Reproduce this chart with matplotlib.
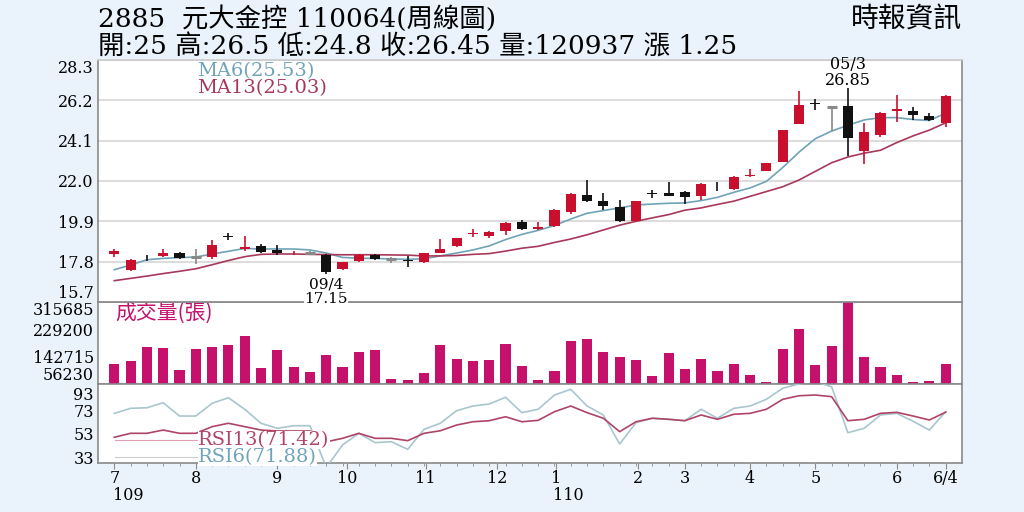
import matplotlib
matplotlib.use('Agg')
import matplotlib.pyplot as plt
from matplotlib.lines import Line2D
import numpy as np

# weekly candles 109/7 .. 110/6/4
opens = [18.22, 17.38, 17.96, 18.08, 18.23, 18.02, 18.06, 19.15, 18.44, 18.62,
         18.39, 18.23, 18.25, 18.15, 17.42, 17.82, 18.15, 17.94, 17.88, 17.76,
         18.27, 18.62, 19.25, 19.14, 19.38, 19.88, 19.50, 19.66, 20.41, 21.28,
         20.98, 20.67, 19.90, 21.38, 21.40, 21.45, 21.24, 21.76, 21.59, 22.25,
         22.54, 23.01, 24.97, 26.05, 25.85, 25.93, 23.58, 24.42, 25.62, 25.67,
         25.40, 25.00]
highs = [18.48, 17.96, 18.15, 18.46, 18.28, 18.46, 18.95, 19.30, 19.12, 18.72,
         18.67, 18.35, 18.35, 18.20, 17.80, 18.20, 18.20, 18.06, 18.08, 18.25,
         18.98, 19.05, 19.50, 19.40, 19.85, 19.98, 19.88, 20.55, 21.40, 22.06,
         21.36, 21.02, 20.94, 21.54, 21.93, 21.50, 21.90, 21.95, 22.28, 22.63,
         22.95, 24.68, 26.68, 26.28, 25.90, 26.85, 25.00, 25.60, 26.48, 25.87,
         25.55, 26.50]
lows = [18.06, 17.33, 17.85, 18.02, 17.94, 17.68, 17.94, 18.95, 18.37, 18.23,
        18.16, 18.15, 18.15, 17.15, 17.38, 17.78, 17.88, 17.73, 17.54, 17.71,
        18.25, 18.55, 19.07, 19.05, 19.20, 19.45, 19.45, 19.60, 20.30, 20.90,
        20.49, 19.85, 19.90, 21.10, 21.24, 20.81, 21.00, 21.50, 21.55, 22.20,
        22.50, 23.01, 24.97, 25.70, 24.60, 23.32, 22.90, 24.30, 25.06, 25.15,
        25.10, 24.80]
closes = [18.37, 17.89, 17.93, 18.25, 17.99, 18.02, 18.67, 19.10, 18.57, 18.28,
          18.23, 18.27, 18.25, 17.28, 17.76, 18.16, 17.92, 17.94, 17.82, 18.23,
          18.46, 19.01, 19.30, 19.36, 19.80, 19.50, 19.62, 20.49, 21.31, 20.98,
          20.72, 19.90, 20.94, 21.34, 21.24, 21.19, 21.85, 21.72, 22.23, 22.33,
          22.92, 24.68, 25.94, 26.00, 25.85, 24.25, 24.57, 25.53, 25.74, 25.46,
          25.20, 26.45]
ma6 = [17.38, 17.63, 17.90, 17.97, 18.01, 18.04, 18.20, 18.34, 18.49, 18.46,
       18.46, 18.46, 18.41, 18.25, 18.02, 17.98, 17.97, 17.94, 17.92, 17.95,
       18.10, 18.25, 18.41, 18.62, 18.95, 19.22, 19.43, 19.68, 20.02, 20.32,
       20.46, 20.60, 20.75, 20.80, 20.84, 20.86, 20.98, 21.15, 21.41, 21.64,
       21.98, 22.70, 23.50, 24.20, 24.60, 24.90, 25.18, 25.30, 25.30, 25.20,
       25.15, 25.53]
ma13 = [16.81, 16.93, 17.05, 17.18, 17.30, 17.43, 17.64, 17.86, 18.06, 18.18,
        18.20, 18.20, 18.18, 18.17, 18.16, 18.16, 18.16, 18.15, 18.14, 18.10,
        18.10, 18.12, 18.18, 18.22, 18.35, 18.50, 18.60, 18.80, 18.98, 19.20,
        19.45, 19.70, 19.90, 20.08, 20.25, 20.48, 20.60, 20.78, 20.95, 21.20,
        21.45, 21.70, 22.05, 22.50, 22.95, 23.25, 23.45, 23.60, 24.00, 24.35,
        24.65, 25.03]
volume = [118000, 129900, 173500, 169300, 99800, 167000, 172500, 181100, 206800, 107500,
          165100, 110700, 94700, 147800, 110700, 157400, 165100, 72200, 69000, 90200,
          181100, 134100, 128600, 131800, 182100, 113900, 69000, 98800, 192700, 198100,
          158700, 141400, 130900, 80600, 154200, 103000, 134100, 96600, 120300, 83800,
          61400, 167000, 230100, 117100, 176700, 315685, 141400, 111600, 86000, 61400,
          64600, 120937]
rsi6 = [70.4, 74.7, 75.2, 79.5, 68.1, 68.1, 79.0, 83.8, 73.9, 61.9,
        57.6, 59.8, 59.8, 24.0, 43.3, 53.3, 45.3, 46.1, 39.6, 56.7,
        61.9, 72.7, 76.7, 78.4, 84.2, 71.0, 73.9, 86.1, 91.0, 76.7,
        69.0, 44.1, 62.4, 66.2, 65.3, 64.1, 73.9, 66.2, 74.7, 76.7,
        82.4, 91.9, 95.6, 97.5, 93.2, 53.8, 57.6, 69.0, 70.4, 63.6,
        56.1, 71.88]
rsi13 = [49.9, 53.3, 53.3, 56.1, 53.3, 53.3, 59.0, 61.9, 59.0, 56.1,
         55.3, 55.3, 55.3, 46.0, 49.0, 53.3, 49.0, 49.0, 47.0, 53.3,
         55.5, 60.4, 63.2, 64.1, 67.5, 63.2, 64.4, 71.8, 76.7, 71.0,
         66.2, 54.7, 63.2, 66.2, 65.3, 64.1, 69.0, 65.3, 69.6, 70.4,
         73.9, 82.4, 85.5, 86.1, 84.7, 64.1, 65.3, 70.4, 71.3, 68.1,
         64.7, 71.42]

month_pos = [0, 5, 10, 14.3, 19.1, 23.5, 27.1, 32.1, 35, 39, 43, 48, 51]
month_labels = ['7', '8', '9', '10', '11', '12', '1', '2', '3', '4', '5', '6', '6/4']
price_ticks = [15.7, 17.8, 19.9, 22.0, 24.1, 26.2, 28.3]
vol_ticks = [56230, 142715, 229200, 315685]
rsi_ticks = [33, 53, 73, 93]

# colours
bg = '#EAF2FB'
c_up = '#C8102E'
c_dn = '#111111'
c_flat = '#888888'
c_ma6 = '#6FA3B8'
c_ma13 = '#A8385A'
c_vol = '#C5106C'
c_rsi6 = '#A9C6CE'
c_rsi13 = '#B04466'
c_spine = '#8a8a8a'
serif = 'DejaVu Serif'
cjk = ['DejaVu Serif', 'Noto Sans CJK TC']
tick_fs = 11.5

fig = plt.figure(figsize=(10.24, 5.12), dpi=100)
fig.patch.set_facecolor(bg)

def fy(y):
    return 1 - y / 512.0

L, W = 98 / 1024, 864 / 1024
ax_p = fig.add_axes([L, fy(302), W, (302 - 60) / 512])
ax_v = fig.add_axes([L, fy(384), W, (384 - 302) / 512])
ax_r = fig.add_axes([L, fy(463), W, (463 - 384) / 512])
ax_p.set_zorder(3)

idx = np.arange(len(closes))
for ax in (ax_p, ax_v, ax_r):
    ax.set_xlim(-1, 52)
    ax.set_facecolor('white')
    for s in ax.spines.values():
        s.set_color(c_spine)
        s.set_linewidth(1.2)
    ax.tick_params(axis='y', length=0, pad=3)

# ---- price panel
bw = 0.62
for i in idx:
    o, h, l, c = opens[i], highs[i], lows[i], closes[i]
    col = c_up if c > o else (c_dn if c < o else c_flat)
    ax_p.vlines(i, l, h, color=col, lw=1.2, zorder=4)
    if abs(c - o) < 0.03:
        ax_p.hlines((o + c) / 2, i - bw / 2, i + bw / 2, color=col, lw=2.2, zorder=5)
    else:
        ax_p.bar(i, abs(c - o), bottom=min(o, c), width=bw, color=col, zorder=5)
ax_p.plot(idx, ma6, color=c_ma6, lw=1.2, zorder=3)
ax_p.plot(idx, ma13, color=c_ma13, lw=1.2, zorder=3)
ax_p.set_ylim(15.7, 28.3)
ax_p.set_yticks(price_ticks)
ax_p.set_yticklabels(['%.1f' % t for t in price_ticks], family=serif, fontsize=tick_fs)
pl = ax_p.yaxis.get_majorticklabels()
pl[-1].set_va('top')
pl[0].set_va('bottom')
ax_p.grid(axis='y', color='#dddddd', lw=1.5, zorder=0)
ax_p.set_xticks([])
ax_p.spines['top'].set_color('#cccccc')

lo_i = int(np.argmin(lows))
hi_i = int(np.argmax(highs))
ax_p.annotate('09/4', (lo_i, lows[lo_i]), xytext=(0, -7.5), textcoords='offset points',
              ha='center', va='center', fontsize=11, family=serif, zorder=6)
ax_p.annotate('%.2f' % lows[lo_i], (lo_i, lows[lo_i]), xytext=(0, -18), textcoords='offset points',
              ha='center', va='center', fontsize=11, family=serif, zorder=6,
              bbox=dict(facecolor='white', edgecolor='none', pad=0.3), annotation_clip=False)
ax_p.annotate('05/3', (hi_i, highs[hi_i]), xytext=(0, 16.5), textcoords='offset points',
              ha='center', va='center', fontsize=11.5, family=serif, zorder=6, annotation_clip=False)
ax_p.annotate('%.2f' % highs[hi_i], (hi_i, highs[hi_i]), xytext=(0, 5), textcoords='offset points',
              ha='center', va='center', fontsize=11.5, family=serif, zorder=6)

# MA legend
for y, txt, col in [(71, 'MA6(%.2f)' % ma6[-1], c_ma6), (88, 'MA13(%.2f)' % ma13[-1], c_ma13)]:
    fig.add_artist(Line2D([115 / 1024, 197 / 1024], [fy(y + 1), fy(y + 1)], color='#aaaaaa', lw=0.8))
    fig.text(197 / 1024, fy(y), txt, color=col, fontsize=14, family=serif, va='center', zorder=10)

# ---- volume panel
ax_v.bar(idx, volume, width=bw, color=c_vol, zorder=3)
ax_v.set_ylim(vol_ticks[0], vol_ticks[-1])
ax_v.set_yticks(vol_ticks)
ax_v.set_yticklabels([str(v) for v in vol_ticks], family=serif, fontsize=tick_fs)
vl = ax_v.yaxis.get_majorticklabels()
vl[-1].set_va('top')
vl[0].set_va('bottom')
ax_v.set_xticks([])
ax_v.text(115 / 1024, fy(313), '成交量(張)', transform=fig.transFigure, color=c_vol,
          fontsize=15, family=['Noto Sans CJK TC'], va='center', zorder=10)

# ---- RSI panel
ax_r.plot(idx, rsi6, color=c_rsi6, lw=1.2, zorder=3)
ax_r.plot(idx, rsi13, color=c_rsi13, lw=1.2, zorder=3)
ax_r.set_ylim(27.86, 95.55)
ax_r.set_yticks(rsi_ticks)
ax_r.set_yticklabels([str(v) for v in rsi_ticks], family=serif, fontsize=tick_fs)
ax_r.yaxis.get_majorticklabels()[-1].set_va('top')
ax_r.set_xticks(month_pos)
ax_r.set_xticklabels(month_labels, family=serif, fontsize=11.5)
ax_r.set_xticks(idx, minor=True)
ax_r.tick_params(axis='x', which='major', length=4, color=c_spine, pad=1)
ax_r.tick_params(axis='x', which='minor', length=2, color=c_spine)
ax_r.text(-0.1, -0.41, '109', transform=ax_r.get_xaxis_transform(), fontsize=11.5,
          family=serif, ha='left', va='center')
ax_r.text(26.9, -0.41, '110', transform=ax_r.get_xaxis_transform(), fontsize=11.5,
          family=serif, ha='left', va='center')

for y, txt, col, lcol in [(440, 'RSI13(%.2f)' % rsi13[-1], c_rsi13, '#e0a0b0'),
                          (457, 'RSI6(%.2f)' % rsi6[-1], c_ma6, '#cccccc')]:
    ax_r.add_artist(Line2D([115 / 1024, 197 / 1024], [fy(y), fy(y)], color=lcol, lw=0.8,
                           transform=fig.transFigure, zorder=4))
    ax_r.text(198 / 1024, fy(y), txt, transform=fig.transFigure, color=col, fontsize=14,
              family=serif, va='center', zorder=6,
              bbox=dict(facecolor='white', edgecolor='none', pad=0.3))

# ---- header
fig.text(98 / 1024, fy(19), '2885  元大金控 110064(周線圖)', fontsize=19, family=cjk, va='center')
fig.text(98 / 1024, fy(47), '開:25 高:26.5 低:24.8 收:26.45 量:120937 漲 1.25',
         fontsize=19, family=cjk, va='center')
fig.text(962 / 1024, fy(20), '時報資訊', fontsize=20, family=cjk, va='center', ha='right')

plt.savefig('out.png', dpi=100, facecolor=bg)
